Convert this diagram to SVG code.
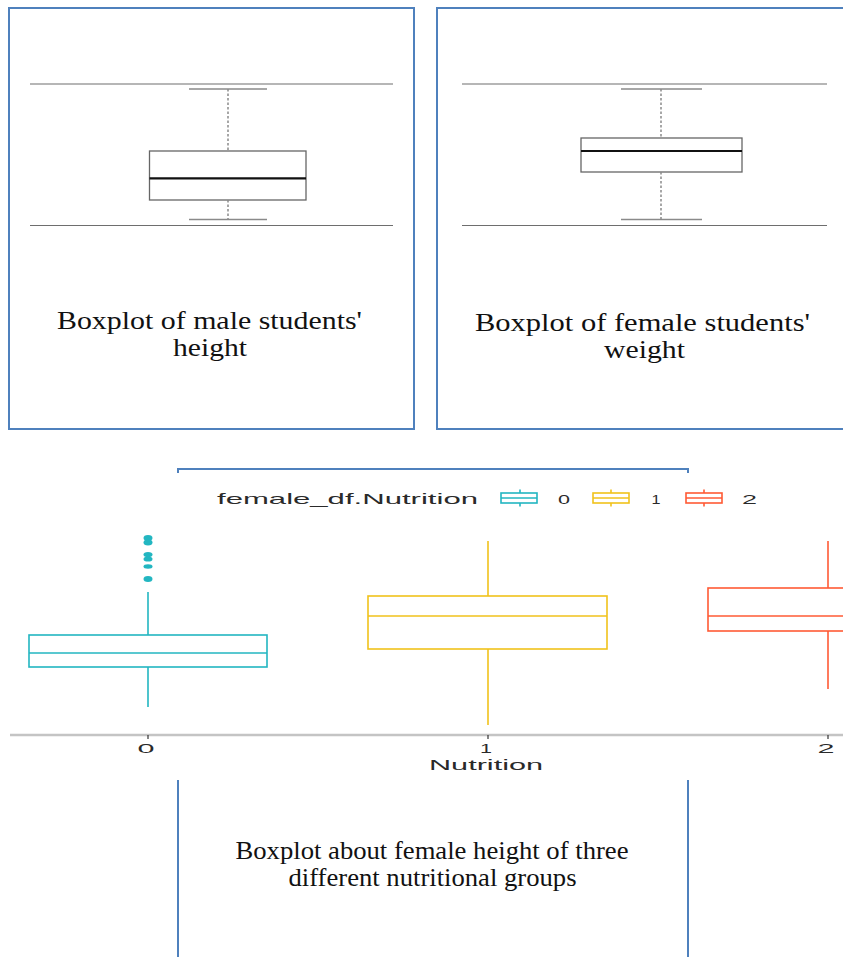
<svg xmlns="http://www.w3.org/2000/svg" width="843" height="957" viewBox="0 0 843 957">
<style>
.frame{fill:none;stroke:#4f81bd;stroke-width:2}
.ref{stroke:#6e6e6e;stroke-width:1.2;fill:none}
.cap{stroke:#8a8a8a;stroke-width:1.5}
.dash{stroke:#8a8a8a;stroke-width:1.5;stroke-dasharray:2.5,2}
.gbox{fill:#fff;stroke:#666;stroke-width:1.3}
.gmed{stroke:#111;stroke-width:2.2}
.serif{font-family:"Liberation Serif","Times New Roman",serif;fill:#111;text-anchor:middle}
.sans{font-family:"Liberation Sans",Arial,sans-serif;fill:#2a2a2a;text-anchor:middle}
.c0{stroke:#22b6c1;fill:none;stroke-width:1.6}
.c1{stroke:#f1c21b;fill:none;stroke-width:1.6}
.c2{stroke:#ff5a35;fill:none;stroke-width:1.6}
</style>
<rect width="843" height="957" fill="#fff"/>

<g id="panel-male-height">
  <rect class="frame" x="9" y="8" width="405" height="421"/>
  <line class="ref" x1="30" y1="84" x2="393" y2="84"/>
  <line class="ref" x1="30" y1="225.5" x2="393" y2="225.5"/>
  <line class="cap" x1="189" y1="89" x2="267" y2="89"/>
  <line class="dash" x1="228" y1="89" x2="228" y2="151"/>
  <rect class="gbox" x="149.5" y="151" width="156.5" height="49"/>
  <line class="gmed" x1="149.5" y1="178.3" x2="306" y2="178.3"/>
  <line class="dash" x1="228" y1="200" x2="228" y2="219"/>
  <line class="cap" x1="189" y1="219.5" x2="267" y2="219.5"/>
  <text class="serif" font-size="25.5" x="209.5" y="329" textLength="305" lengthAdjust="spacingAndGlyphs">Boxplot of male students'</text>
  <text class="serif" font-size="25.5" x="210" y="356" textLength="74" lengthAdjust="spacingAndGlyphs">height</text>
</g>

<g id="panel-female-weight">
  <rect class="frame" x="437" y="8" width="420" height="421"/>
  <line class="ref" x1="462" y1="84" x2="827" y2="84"/>
  <line class="ref" x1="462" y1="225.5" x2="827" y2="225.5"/>
  <line class="cap" x1="621" y1="89" x2="702" y2="89"/>
  <line class="dash" x1="661" y1="89" x2="661" y2="138"/>
  <rect class="gbox" x="581" y="138" width="161" height="34"/>
  <line class="gmed" x1="581" y1="151" x2="742" y2="151" stroke-width="2.6"/>
  <line class="dash" x1="661" y1="172" x2="661" y2="219"/>
  <line class="cap" x1="621" y1="219.5" x2="702" y2="219.5"/>
  <text class="serif" font-size="25.5" x="642.5" y="331" textLength="335" lengthAdjust="spacingAndGlyphs">Boxplot of female students'</text>
  <text class="serif" font-size="25.5" x="644.5" y="358" textLength="81" lengthAdjust="spacingAndGlyphs">weight</text>
</g>

<g id="panel-female-height-nutrition">
  <rect class="frame" x="178" y="469" width="510" height="500"/>
  <rect x="0" y="473" width="843" height="307" fill="#fff"/>
  <g id="legend">
    <text class="sans" font-size="15" fill="#222" x="347.5" y="504" textLength="261" lengthAdjust="spacingAndGlyphs">female_df.Nutrition</text>
    <rect class="c0" x="501" y="493" width="36" height="10"/>
    <line class="c0" x1="501" y1="498" x2="537" y2="498"/>
    <line class="c0" x1="520" y1="489.5" x2="520" y2="493"/>
    <line class="c0" x1="520" y1="503" x2="520" y2="506.5"/>
    <text class="sans" font-size="13" x="564" y="503.5" textLength="12" lengthAdjust="spacingAndGlyphs">0</text>
    <rect class="c1" x="593" y="493" width="36" height="10"/>
    <line class="c1" x1="593" y1="498" x2="629" y2="498"/>
    <line class="c1" x1="611" y1="489.5" x2="611" y2="493"/>
    <line class="c1" x1="611" y1="503" x2="611" y2="506.5"/>
    <text class="sans" font-size="13" x="656" y="503.5" textLength="9" lengthAdjust="spacingAndGlyphs">1</text>
    <rect class="c2" x="686" y="493" width="36" height="10"/>
    <line class="c2" x1="686" y1="498" x2="722" y2="498"/>
    <line class="c2" x1="704" y1="489.5" x2="704" y2="493"/>
    <line class="c2" x1="704" y1="503" x2="704" y2="506.5"/>
    <text class="sans" font-size="13" x="749.5" y="503.5" textLength="15" lengthAdjust="spacingAndGlyphs">2</text>
  </g>
  <g id="box-0">
    <line class="c0" x1="148" y1="592" x2="148" y2="635"/>
    <rect class="c0" x="29" y="635" width="238" height="32"/>
    <line class="c0" x1="29" y1="653" x2="267" y2="653"/>
    <line class="c0" x1="148" y1="667" x2="148" y2="707"/>
    <g fill="#22b6c1">
      <ellipse cx="148" cy="538" rx="4.5" ry="3"/>
      <ellipse cx="148" cy="542.5" rx="4.5" ry="3"/>
      <ellipse cx="148" cy="554.5" rx="4.5" ry="2.6"/>
      <ellipse cx="148" cy="559" rx="4.5" ry="2.6"/>
      <ellipse cx="148" cy="566.5" rx="4.5" ry="2.2"/>
      <ellipse cx="148" cy="579" rx="4.5" ry="3"/>
    </g>
  </g>
  <g id="box-1">
    <line class="c1" x1="488" y1="541" x2="488" y2="596"/>
    <rect class="c1" x="368" y="596" width="239" height="53"/>
    <line class="c1" x1="368" y1="616" x2="607" y2="616"/>
    <line class="c1" x1="488" y1="649" x2="488" y2="725"/>
  </g>
  <g id="box-2">
    <line class="c2" x1="828" y1="541" x2="828" y2="588"/>
    <rect class="c2" x="708" y="588" width="160" height="43"/>
    <line class="c2" x1="708" y1="616" x2="868" y2="616"/>
    <line class="c2" x1="828" y1="631" x2="828" y2="689"/>
  </g>
  <g id="axis">
    <line x1="10" y1="735" x2="843" y2="735" stroke="#c4c4c4" stroke-width="2.5"/>
    <line x1="148" y1="735" x2="148" y2="739" stroke="#333" stroke-width="1.2"/>
    <line x1="488" y1="735" x2="488" y2="739" stroke="#333" stroke-width="1.2"/>
    <line x1="828" y1="735" x2="828" y2="739" stroke="#333" stroke-width="1.2"/>
    <text class="sans" font-size="13.5" x="146" y="753" textLength="17" lengthAdjust="spacingAndGlyphs">0</text>
    <text class="sans" font-size="13.5" x="486" y="753" textLength="12" lengthAdjust="spacingAndGlyphs">1</text>
    <text class="sans" font-size="13.5" x="826" y="753" textLength="17" lengthAdjust="spacingAndGlyphs">2</text>
    <text class="sans" font-size="15" x="486" y="770" textLength="114" lengthAdjust="spacingAndGlyphs">Nutrition</text>
  </g>
  <text class="serif" font-size="25" x="432" y="859" textLength="393" lengthAdjust="spacingAndGlyphs">Boxplot about female height of three</text>
  <text class="serif" font-size="25" x="432.5" y="886" textLength="288" lengthAdjust="spacingAndGlyphs">different nutritional groups</text>
</g>

<g id="connectors"/>
</svg>
